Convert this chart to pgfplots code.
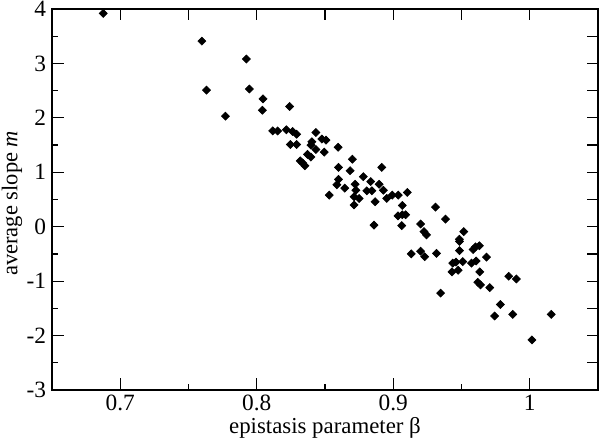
\documentclass[border=0pt]{standalone}
\usepackage{pgfplots}
\pgfplotsset{compat=1.18}
\usepackage{fontspec}
\setmainfont{Liberation Serif}
\begin{document}
\begin{tikzpicture}
\pgfplotsset{
  common/.style={
    scale only axis, width=327.6pt, height=228.6pt,
    xmin=0.65, xmax=1.05, ymin=-3, ymax=4,
    axis line style={line width=0.7pt, black},
    every tick/.style={line width=0.7pt, black},
    tick align=inside,
    at={(0,0)}, anchor=south west,
  }
}
\begin{axis}[common, name=ax,
  tick pos=left,
  xtick={0.7,0.8,0.9,1.0},
  xticklabels={0.7,0.8,0.9,1},
  ytick={-3,-2,-1,0,1,2,3,4},
  minor x tick num=1, minor y tick num=1,
  major tick length=7pt, minor tick length=3.5pt,
  /pgf/number format/assume math mode=true,
  ticklabel style={font=\fontsize{14}{16}\selectfont},
  xticklabel style={yshift=0.5pt},
  xlabel={epistasis parameter β},
  ylabel={average slope \textit{m}},
  every axis x label/.style={at={(axis description cs:0.5,0)}, yshift=-23pt, anchor=center, font=\fontsize{13.7}{16}\selectfont},
  every axis y label/.style={at={(axis description cs:0,0.49)}, xshift=-24pt, rotate=90, anchor=center, font=\fontsize{13.5}{16}\selectfont},
]
\addplot[only marks, mark=square*, mark size=1.7pt, mark options={rotate=45, fill=black, draw=black}] coordinates {
(0.6875,3.92) (0.7598,3.41) (0.7924,3.08) (0.7632,2.51) (0.7946,2.53)
(0.8046,2.35) (0.8041,2.14) (0.8241,2.21) (0.7771,2.03) (0.8117,1.76)
(0.8153,1.76) (0.8217,1.78) (0.8263,1.75) (0.8292,1.70) (0.8246,1.51)
(0.8292,1.51) (0.8433,1.73) (0.8404,1.56) (0.8477,1.61) (0.8507,1.59)
(0.8397,1.50) (0.8433,1.42) (0.8494,1.37) (0.8372,1.33) (0.8397,1.28)
(0.8319,1.21) (0.8336,1.17) (0.8353,1.12) (0.8596,1.46) (0.8701,1.24)
(0.8599,1.09) (0.8684,1.03) (0.8916,1.09) (0.8781,0.92) (0.8599,0.87)
(0.8587,0.77) (0.8645,0.71) (0.8721,0.78) (0.8726,0.67) (0.8835,0.83)
(0.8896,0.78) (0.8806,0.66) (0.8843,0.66) (0.8928,0.67) (0.8531,0.58)
(0.8713,0.55) (0.8750,0.52) (0.8713,0.40) (0.8867,0.46) (0.8952,0.52)
(0.8993,0.58) (0.9037,0.58) (0.9103,0.63) (0.9066,0.39) (0.9035,0.20)
(0.9066,0.22) (0.9091,0.22) (0.9062,0.02) (0.8859,0.03) (0.9200,0.05)
(0.9225,-0.09) (0.9244,-0.15) (0.9310,0.36) (0.9383,0.14) (0.9132,-0.50)
(0.9200,-0.45) (0.9230,-0.55) (0.9317,-0.49) (0.9347,-1.22) (0.9517,-0.09)
(0.9485,-0.23) (0.9485,-0.27) (0.9485,-0.44) (0.9585,-0.42) (0.9602,-0.37)
(0.9631,-0.35) (0.9683,-0.56) (0.9436,-0.67) (0.9460,-0.65) (0.9509,-0.64)
(0.9431,-0.83) (0.9475,-0.80) (0.9573,-0.67) (0.9607,-0.63) (0.9634,-0.83)
(0.9619,-1.02) (0.9639,-1.07) (0.9707,-1.12) (0.9846,-0.91) (0.9902,-0.96)
(0.9785,-1.43) (0.9743,-1.64) (0.9875,-1.61) (1.0157,-1.61) (1.0016,-2.08)
};
\end{axis}
\begin{axis}[common,
  tick pos=right,
  xtick={0.7,0.75,0.8,0.85,0.9,0.95,1.0},
  ytick={-2.5,-2,-1.5,-1,-0.5,0,0.5,1,1.5,2,2.5,3,3.5},
  xticklabels={}, yticklabels={},
  major tick length=6.6pt,
]
\end{axis}
\pgfresetboundingbox
\path (ax.south west) ++(-31.2pt,-30.6pt) coordinate (bl);
\path (ax.north east) ++(1.2pt,5.4pt) coordinate (tr);
\useasboundingbox (bl) rectangle (tr);
\end{tikzpicture}
\end{document}
